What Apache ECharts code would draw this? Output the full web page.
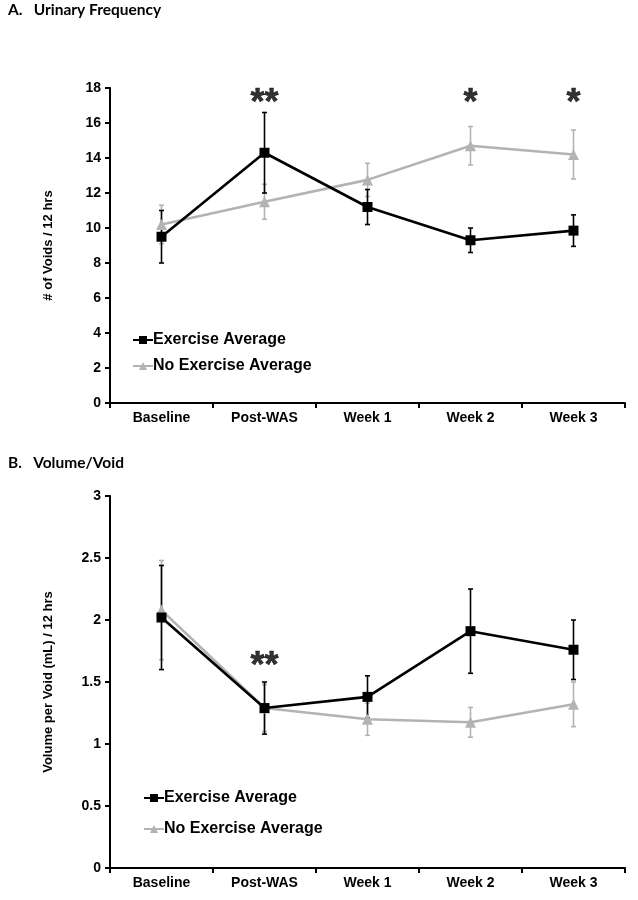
<!DOCTYPE html>
<html><head><meta charset="utf-8">
<script src="https://cdn.jsdelivr.net/npm/echarts@6/dist/echarts.min.js"></script>
<style>html,body{margin:0;padding:0;background:#fff}#c{width:638px;height:900px}</style>
</head><body><div id="c"></div>
<script>
const categories = ['Baseline', 'Post-WAS', 'Week 1', 'Week 2', 'Week 3'];
// Panel A: urinary frequency (# voids / 12 hrs)
const freqExercise = [9.5, 14.3, 11.2, 9.3, 9.85];
const freqExerciseErr = [1.5, 2.3, 1.0, 0.7, 0.9];
const freqNoExercise = [10.2, 11.5, 12.75, 14.7, 14.2];
const freqNoExerciseErr = [1.1, 1.0, 0.95, 1.1, 1.4];
const freqSig = ['', '**', '', '*', '*'];
const freqSigLevel = 17.1;
// Panel B: volume per void (mL) / 12 hrs
const volExercise = [2.02, 1.29, 1.38, 1.91, 1.76];
const volExerciseErr = [0.42, 0.21, 0.17, 0.34, 0.24];
const volNoExercise = [2.08, 1.29, 1.20, 1.175, 1.32];
const volNoExerciseErr = [0.4, 0.19, 0.13, 0.12, 0.18];
const volSig = ['', '**', '', '', ''];
const volSigLevel = 1.62;
const seriesNames = ['Exercise Average', 'No Exercise Average'];

const BLACK = '#000000', GREY = '#b3b3b3';
const FONT = 'Liberation Sans';

function errSeries(name, idx, mean, err, color) {
  return {
    type: 'custom', name: name + ' SE', xAxisIndex: idx, yAxisIndex: idx, silent: true, z: color === BLACK ? 4 : 3,
    data: mean.map((m, i) => [i, m, err[i]]),
    renderItem: function (params, api) {
      const x = api.value(0), y = api.value(1), e = api.value(2);
      const t = api.coord([x, y + e]), b = api.coord([x, y - e]);
      const hw = 2.5;
      const st = { stroke: color, lineWidth: 1.6 };
      return { type: 'group', children: [
        { type: 'line', shape: { x1: t[0], y1: t[1], x2: b[0], y2: b[1] }, style: st },
        { type: 'line', shape: { x1: t[0] - hw, y1: t[1], x2: t[0] + hw, y2: t[1] }, style: st },
        { type: 'line', shape: { x1: b[0] - hw, y1: b[1], x2: b[0] + hw, y2: b[1] }, style: st }
      ]};
    }
  };
}
function lineSeries(name, idx, data, color, symbol, size) {
  return {
    type: 'line', name: name, xAxisIndex: idx, yAxisIndex: idx, data: data,
    symbol: symbol, symbolSize: size, showAllSymbol: true, z: color === BLACK ? 6 : 5,
    color: color,
    lineStyle: { color: color, width: 2.6 }, itemStyle: { color: color, borderWidth: 0 },
    emphasis: { disabled: true }, animation: false
  };
}
function sigSeries(idx, sig, level) {
  const lab = { show: true, position: 'inside', color: '#000', fontFamily: FONT, fontWeight: 'bold', fontSize: 36,
    textBorderColor: '#000', textBorderWidth: 0.6 };
  return {
    type: 'scatter', xAxisIndex: idx, yAxisIndex: idx, symbolSize: 0, silent: true,
    itemStyle: { color: '#000' },
    data: sig.map((s, i) => ({ value: [i, level], label: Object.assign({}, lab, { formatter: s }) })),
    label: lab
  };
}
function xAxis(idx) {
  return {
    type: 'category', gridIndex: idx, data: categories, boundaryGap: true,
    axisLine: { lineStyle: { color: '#000', width: 2 } },
    axisTick: { show: true, length: 5, lineStyle: { color: '#000', width: 2 } },
    axisLabel: { color: '#000', fontFamily: FONT, fontWeight: 'bold', fontSize: 14, margin: 8 },
    splitLine: { show: false }
  };
}
function yAxis(idx, max, interval, name, gap) {
  return {
    type: 'value', gridIndex: idx, min: 0, max: max, interval: interval,
    name: name, nameLocation: 'middle', nameGap: gap, nameRotate: 90,
    nameTextStyle: { color: '#000', fontFamily: FONT, fontWeight: 'bold', fontSize: 13 },
    axisLine: { show: true, lineStyle: { color: '#000', width: 2 } },
    axisTick: { show: true, length: 5, lineStyle: { color: '#000', width: 2 } },
    axisLabel: { color: '#000', fontFamily: FONT, fontWeight: 'bold', fontSize: 14, margin: 9 },
    splitLine: { show: false }
  };
}
function legend(left, top, gap) {
  return {
    left: left, top: top, orient: 'vertical', itemGap: gap, itemWidth: 20, itemHeight: 10,
    data: seriesNames, selectedMode: false,
    textStyle: { color: '#000', fontFamily: FONT, fontWeight: 'bold', fontSize: 16, padding: [0, 0, 0, -5] }
  };
}

const chart = echarts.init(document.getElementById('c'), null, { renderer: 'canvas' });
chart.setOption({
  animation: false,
  backgroundColor: '#fff',
  title: [
    { text: 'A.   Urinary Frequency', left: 3, top: -3, textStyle: { fontFamily: 'Lato', fontWeight: 'bold', fontSize: 15.5, color: '#000' } },
    { text: 'B.   Volume/Void', left: 3, top: 450, textStyle: { fontFamily: 'Lato', fontWeight: 'bold', fontSize: 15.5, color: '#000' } }
  ],
  legend: [legend(127, 327, 10), legend(138, 785, 15)],
  grid: [
    { left: 110, right: 13, top: 88, height: 315 },
    { left: 110, right: 13, top: 496, height: 372 }
  ],
  xAxis: [xAxis(0), xAxis(1)],
  yAxis: [yAxis(0, 18, 2, '# of Voids / 12 hrs', 55), yAxis(1, 3, 0.5, 'Volume per Void (mL) / 12 hrs', 55)],
  series: [
    lineSeries(seriesNames[1], 0, freqNoExercise, GREY, 'triangle', 11),
    lineSeries(seriesNames[0], 0, freqExercise, BLACK, 'rect', 10),
    errSeries(seriesNames[1], 0, freqNoExercise, freqNoExerciseErr, GREY),
    errSeries(seriesNames[0], 0, freqExercise, freqExerciseErr, BLACK),
    sigSeries(0, freqSig, freqSigLevel),
    lineSeries(seriesNames[1], 1, volNoExercise, GREY, 'triangle', 11),
    lineSeries(seriesNames[0], 1, volExercise, BLACK, 'rect', 10),
    errSeries(seriesNames[1], 1, volNoExercise, volNoExerciseErr, GREY),
    errSeries(seriesNames[0], 1, volExercise, volExerciseErr, BLACK),
    sigSeries(1, volSig, volSigLevel)
  ]
});
</script></body></html>
